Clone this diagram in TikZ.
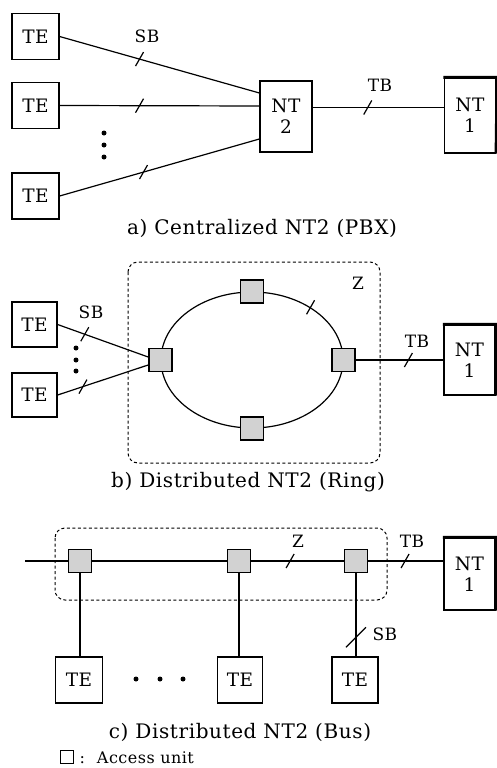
\documentclass[tikz,border=0pt]{standalone}
\usepackage{fontspec}
\setmainfont{DejaVu Serif}[LetterSpace=3]
\usetikzlibrary{shapes.geometric,calc}
\begin{document}
\begin{tikzpicture}[x=1pt,y=-1pt,line width=1.2pt,
  box/.style={draw,line width=1.2pt,minimum width=47pt,minimum height=46pt,inner sep=0pt,align=center,font=\fontsize{18.5}{21}\selectfont},
  ntone/.style={box,minimum width=51pt},
  au/.style={draw,fill=gray!35,line width=1.5pt,minimum size=23pt,inner sep=0pt},
  lbl/.style={font=\fontsize{17}{18}\selectfont,inner sep=0pt,anchor=base},
  captext/.style={font=\fontsize{20}{22}\selectfont,inner sep=0pt,anchor=base},
  zone/.style={draw,line width=1pt,dash pattern=on 3pt off 2.5pt,rounded corners=10pt},
  dot/.style={circle,fill,inner sep=0pt,minimum size=5pt}]
\useasboundingbox (0,0) rectangle (496,768);
\fill[white] (0,0) rectangle (496,768);

% slash across a link marking a reference point
\newcommand\refmark[1]{\draw (#1) ++(-4,7) -- ++(8,-14);}
% thick top and right edge of an NT1 box
\newcommand\ntshade[1]{\draw[line width=3pt] ([xshift=-0.6pt]#1.north west) -- ([xshift=1pt]#1.north east) -- (#1.south east);}

% ---------- a) centralized NT2 ----------
\node[box] (ta1) at (35.5,36.5) {TE};
\node[box] (ta2) at (35.5,105.5) {TE};
\node[box] (ta3) at (35.5,196) {TE};
\node[box,minimum width=52pt,minimum height=71pt] (nt2) at (286,116.5) {NT\\2};
\node[ntone,minimum height=75pt] (nta) at (470,115.5) {NT\\1};
\ntshade{nta}
\draw (ta1.east) -- coordinate[pos=0.4] (ma1) ([yshift=23.5pt]nt2.west);
\draw (ta2.east) -- coordinate[pos=0.4] (ma2) ([yshift=10.5pt]nt2.west);
\draw (ta3.east) -- coordinate[pos=0.42] (ma3) ([yshift=-22.5pt]nt2.west);
\draw ([yshift=9pt]nt2.east) -- coordinate[pos=0.42] (ma4) ([yshift=8pt]nta.west);
\refmark{ma1}\refmark{ma2}\refmark{ma3}\refmark{ma4}
\node[lbl] (sba) at (147,43) {SB};
\node[lbl] (tba) at (380,92) {TB};
\node[dot] (da1) at (104,133) {};
\node[dot] (da2) at (104,145) {};
\node[dot] (da3) at (104,157) {};
\node[captext] (capa) at (262,234) {a) Centralized NT2 (PBX)};

% ---------- b) distributed NT2, ring ----------
\draw[zone] (128,262) rectangle (380,463);
\node[draw,ellipse,minimum width=182pt,minimum height=136pt,inner sep=0pt] (ring) at (252,360) {};
\node[au] (rt) at (ring.north) {};
\node[au] (rl) at (ring.west) {};
\node[au] (rr) at (ring.east) {};
\node[au] (rb) at (ring.south) {};
\refmark{ring.42}
\node[lbl] (zb) at (358,289) {Z};
\node[box,minimum width=45pt,minimum height=45pt] (tb1) at (34.5,324.5) {TE};
\node[box,minimum width=45pt,minimum height=44pt] (tb2) at (34.5,395) {TE};
\node[ntone,minimum height=70pt] (ntb) at (469.5,360) {NT\\1};
\ntshade{ntb}
\draw (tb1.east) -- coordinate[pos=0.3] (mb1) ([yshift=3pt]rl.west);
\draw (tb2.east) -- coordinate[pos=0.28] (mb2) ([yshift=-5pt]rl.west);
\draw (rr.east) -- coordinate[pos=0.6] (mb3) (ntb.west);
\refmark{mb1}\refmark{mb2}\refmark{mb3}
\node[lbl] (sbb) at (91,318) {SB};
\node[lbl] (tbb) at (417,347) {TB};
\node[dot] (db1) at (76,348) {};
\node[dot] (db2) at (76,360) {};
\node[dot] (db3) at (76,371) {};
\node[captext] (capb) at (248,487) {b) Distributed NT2 (Ring)};

% ---------- c) distributed NT2, bus ----------
\draw[zone] (55,528) rectangle (387,600);
\coordinate (busend) at (25,561);
\node[au] (c1) at (80,561) {};
\node[au] (c2) at (239,561) {};
\node[au] (c3) at (356,561) {};
\node[box] (tc1) at (79,680) {TE};
\node[box,minimum width=45pt] (tc2) at (240,680) {TE};
\node[box,minimum width=46pt] (tc3) at (355,680) {TE};
\node[ntone,minimum height=72pt] (ntc) at (469.5,574) {NT\\1};
\ntshade{ntc}
\draw (busend) -- (c1.west);
\draw (c1.east) -- (c2.west);
\draw (c2.east) -- coordinate[pos=0.42] (mc1) (c3.west);
\draw (c3.east) -- coordinate[pos=0.49] (mc2) ([yshift=13pt]ntc.west);
\draw (c1.south) -- (c1.south |- tc1.north);
\draw (c2.south) -- (c2.south |- tc2.north);
\draw (c3.south) -- coordinate[pos=0.77] (mc3) (c3.south |- tc3.north);
\refmark{mc1}\refmark{mc2}
\draw (mc3) ++(-10,10) -- ++(20,-20);
\node[lbl] (zc) at (298,547) {Z};
\node[lbl] (tbc) at (412,547) {TB};
\node[lbl,anchor=base west] (sbc) at (372,640) {SB};
\node[dot] (dc1) at (136,679) {};
\node[dot] (dc2) at (160,679) {};
\node[dot] (dc3) at (183,679) {};
\node[captext] (capc) at (240,738) {c) Distributed NT2 (Bus)};

% legend
\node[draw,line width=0.8pt,minimum size=13pt,inner sep=0pt] (key) at (67,757) {};
\node[lbl,anchor=base west,font=\fontsize{16}{17}\selectfont] (keytext) at (79,763) {:\hspace{12pt}Access unit};
\end{tikzpicture}
\end{document}
